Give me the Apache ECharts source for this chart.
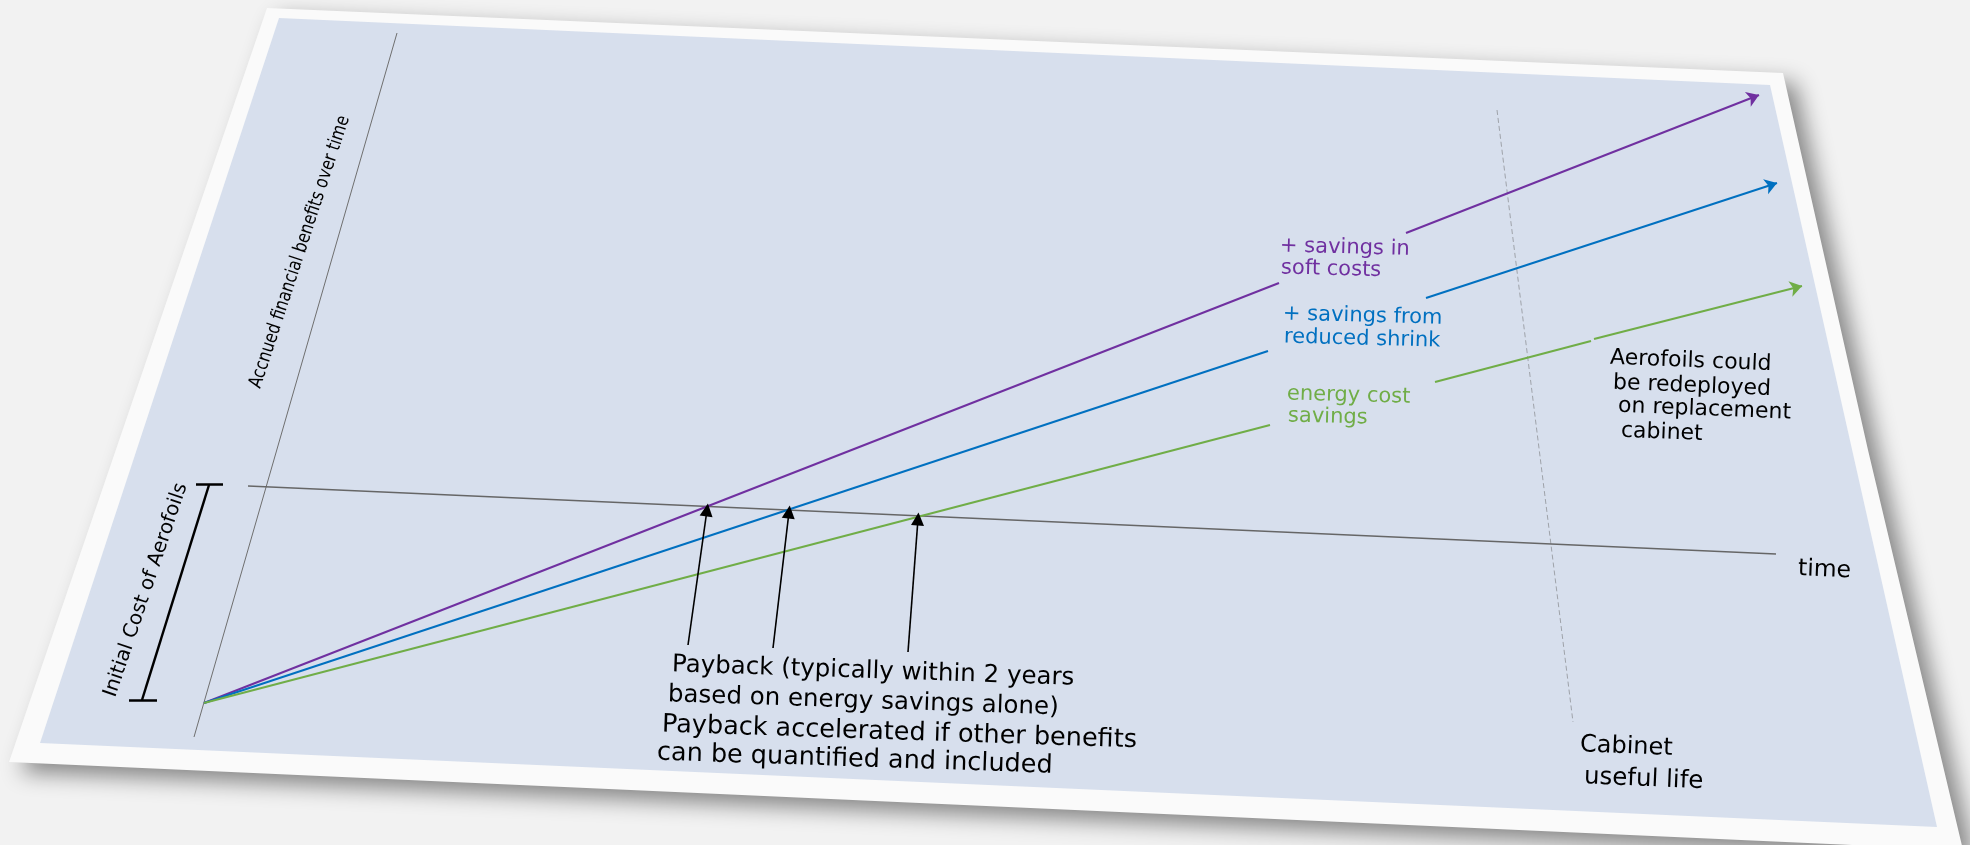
<!DOCTYPE html>
<html>
<head>
<meta charset="utf-8">
<script src="https://cdn.jsdelivr.net/npm/echarts@6/dist/echarts.min.js"></script>
<style>
html,body{margin:0;padding:0;background:#f2f2f2;}
#chart{width:1970px;height:845px;}
</style>
</head>
<body>
<div id="chart"></div>
<script>
// ---- Diagram data (in the picture's own drawing units) ----
const origin = [204, 703];
// visible stretches of each benefit line (gaps leave room for the labels)
const purpleStretches = [[origin, [1279, 283]], [[1406, 233], [1759, 95]]];
const blueStretches   = [[origin, [1268, 351]], [[1426, 298], [1777, 183]]];
const greenStretches  = [[origin, [1270, 425]], [[1435, 382], [1591, 341]], [[1594, 339], [1802, 286]]];
const timeAxisLine    = [[248, 486], [1776, 554]];
const benefitAxisLine = [[397, 33], [194, 737]];
const usefulLifeLine  = [[1497, 110], [1573, 722]];
const paybackArrows   = [[[688, 645], [707, 510]], [[773, 648], [789, 512]], [[908, 652], [918, 519]]];
const costBracket     = [[[196, 484], [223, 484]], [[209, 485], [142, 700]], [[129, 700], [157, 700]]];

const seriesNames = ['+ savings in soft costs', '+ savings from reduced shrink', 'energy cost savings'];
const paybackText = ['Payback (typically within 2 years', 'based on energy savings alone)',
                     'Payback accelerated if other benefits', 'can be quantified and included'];
const redeployText = ['Aerofoils could', 'be redeployed', 'on replacement', 'cabinet'];

const chart = echarts.init(document.getElementById('chart'), null, {renderer: 'canvas'});

const PURPLE = '#7030a0', BLUE = '#0070c0', GREEN = '#70ad47';

function linesSeries(name, segs, color, width, withArrow, extra) {
  return Object.assign({
    type: 'lines', name: name, coordinateSystem: 'cartesian2d', silent: true,
    polyline: false, z: 5,
    symbol: withArrow ? ['none', withArrow] : ['none', 'none'],
    symbolSize: 11,
    lineStyle: {color: color, width: width, opacity: 1, curveness: 0},
    data: segs.map(s => ({coords: s}))
  }, extra || {});
}

function benefitSeries(name, stretches, color) {
  return [
    linesSeries(name, stretches.slice(0, -1), color, 2, null),
    linesSeries(name, stretches.slice(-1), color, 2, 'arrow', {symbolSize: 12})
  ];
}

const series = [].concat(
  [linesSeries('axis-y', [benefitAxisLine], '#6f6f6f', 1, null, {z: 3})],
  [linesSeries('time', [timeAxisLine], '#666666', 1.6, null, {z: 3})],
  [linesSeries('useful life', [usefulLifeLine], '#666666', 1, null, {z: 3, lineStyle: {color: '#666666', width: 1, type: [5, 3]}})],
  benefitSeries(seriesNames[0], purpleStretches, PURPLE),
  benefitSeries(seriesNames[1], blueStretches, BLUE),
  benefitSeries(seriesNames[2], greenStretches, GREEN),
  [linesSeries('payback', paybackArrows, '#000', 1.6, 'triangle', {symbolSize: 13, z: 6})],
  [linesSeries('cost', costBracket, '#000', 2.5, null, {z: 6})]
);

function txt(text, x, y, size, color, rot, opts) {
  return Object.assign({
    type: 'text', x: x, y: y, rotation: rot || 0, z: 100, silent: true,
    style: {
      text: text, fill: color || '#000',
      fontSize: size, fontFamily: 'DejaVu Sans',
      align: 'left', textAlign: 'left',
      verticalAlign: 'middle', textVerticalAlign: 'middle'
    }
  }, opts || {});
}
function ctxt(text, x, y, size, color, rot, opts) {
  const t = txt(text, x, y, size, color, rot, opts);
  t.style.align = 'center'; t.style.textAlign = 'center';
  return t;
}

const graphics = [
  {type: 'polygon', z: 0, silent: true,
   shape: {points: [[267, 8], [1783, 73], [1868, 450], [1963, 850], [9, 762]]},
   style: {fill: '#fafafa', shadowBlur: 22, shadowColor: 'rgba(0,0,0,0.45)', shadowOffsetX: 12, shadowOffsetY: 10}},
  {type: 'polygon', z: 1, silent: true,
   shape: {points: [[279, 18], [1770, 85], [1937, 827], [40, 743]]},
   style: {fill: '#d7dfed'}},
  ctxt('Accnued financial benefits over time', 300, 252, 19, '#000', 1.253, {scaleX: 0.82}),
  ctxt('Initial Cost of Aerofoils', 146, 590, 20, '#000', 1.245),
  txt(paybackText[0], 672, 665, 24.5, '#000', -0.033),
  txt(paybackText[1], 668, 695, 24.5, '#000', -0.033),
  txt(paybackText[2], 662, 725, 25.5, '#000', -0.033),
  txt(paybackText[3], 657, 753, 25.5, '#000', -0.033),
  txt('+ savings in', 1280, 246, 21, PURPLE, -0.027),
  txt('soft costs', 1281, 268, 21, PURPLE, -0.027),
  txt('+ savings from', 1283, 314, 21, BLUE, -0.027),
  txt('reduced shrink', 1284, 337, 21, BLUE, -0.027),
  txt('energy cost', 1287, 394, 21, GREEN, -0.027),
  txt('savings', 1288, 416, 21, GREEN, -0.027),
  txt(redeployText[0], 1610, 358, 22, '#000', -0.04),
  txt(redeployText[1], 1613, 383, 22, '#000', -0.04),
  txt(redeployText[2], 1618, 406, 22, '#000', -0.04),
  txt(redeployText[3], 1621, 431, 22, '#000', -0.04),
  txt('time', 1798, 569, 23.5, '#000', -0.04),
  txt('Cabinet', 1580, 745, 24, '#000', -0.04),
  txt('useful life', 1584, 777, 24.5, '#000', -0.04)
];

chart.setOption({
  backgroundColor: '#f2f2f2',
  animation: false,
  grid: {left: 0, right: 0, top: 0, bottom: 0, containLabel: false},
  xAxis: {type: 'value', min: 0, max: 1970, show: false},
  yAxis: {type: 'value', min: 0, max: 845, inverse: true, show: false},
  graphic: graphics,
  series: series
});
</script>
</body>
</html>
